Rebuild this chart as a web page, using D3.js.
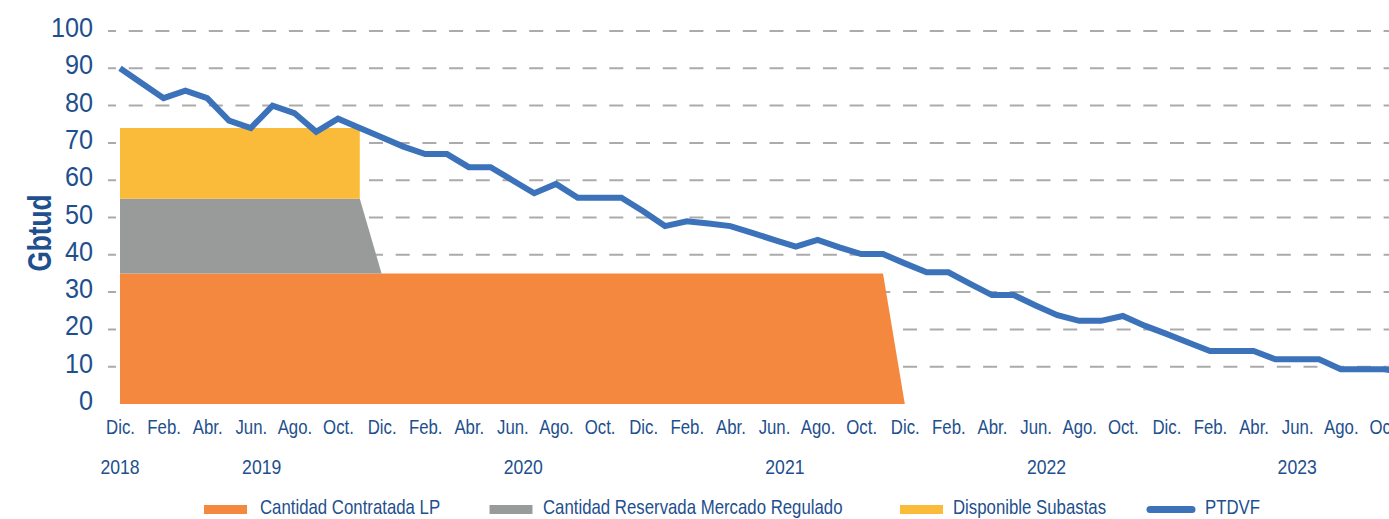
<!DOCTYPE html>
<html>
<head>
<meta charset="utf-8">
<script src="https://cdn.jsdelivr.net/npm/d3@7"></script>
<style>
  html, body { margin: 0; padding: 0; background: #fff; overflow: hidden; }
  svg { display: block; }
  text { font-family: "Liberation Sans", Arial, sans-serif; fill: #1e4f8e; }
</style>
</head>
<body>
<div id="chart"></div>
<script>
'use strict';

// Month labels every two months, Dic. 2018 -> Oct. 2023
const monthLabels = ['Dic.', 'Feb.', 'Abr.', 'Jun.', 'Ago.', 'Oct.'];
const yearLabels = ['2018', '2019', '2020', '2021', '2022', '2023'];
const yearPos = [0, 6.5, 18.5, 30.5, 42.5, 54];

// PTDVF, monthly from Dic. 2018
const ptdvf = [90, 86, 82, 84, 82, 76, 74, 80, 78, 73, 76.5, 74, 71.5, 69, 67, 67, 63.5, 63.5, 60, 56.5,
  59, 55.3, 55.3, 55.3, 51.7, 47.7, 49, 48.4, 47.7, 45.9, 44, 42.2, 44, 42, 40.2, 40.2, 37.7, 35.3, 35.3, 32.2,
  29.2, 29.2, 26.4, 23.8, 22.3, 22.3, 23.6, 21, 18.8, 16.5, 14.2, 14.2, 14.2, 12, 12, 12, 9.3, 9.3, 9.3, 8.5];

// stacked quantities (Gbtud)
const contratada = [35, 35, 35, 35, 35, 35, 35, 35, 35, 35, 35, 35, 35, 35, 35, 35, 35, 35, 35, 35,
  35, 35, 35, 35, 35, 35, 35, 35, 35, 35, 35, 35, 35, 35, 35, 35, 0];
const reservada = [20, 20, 20, 20, 20, 20, 20, 20, 20, 20, 20, 20, 0];
const subastas = [19, 19, 19, 19, 19, 19, 19, 19, 19, 19, 19, 19];

const legendItems = [
  {key: 'contratada', label: 'Cantidad Contratada LP', color: '#f5883f'},
  {key: 'reservada', label: 'Cantidad Reservada Mercado Regulado', color: '#999b9b'},
  {key: 'subastas', label: 'Disponible Subastas', color: '#fbbb3a'},
  {key: 'ptdvf', label: 'PTDVF', color: '#3b72ba'}
];

const width = 1389, height = 519;
const narrow = ' scale(0.84,1)';   // condensed look from a regular face
const x = d3.scaleLinear().domain([0, 58]).range([120, 1384.4]);
const y = d3.scaleLinear().domain([0, 100]).range([404, 31]);

const svg = d3.select('#chart').append('svg')
  .attr('width', width)
  .attr('height', height);

// grid
svg.append('g')
  .selectAll('line')
  .data(d3.range(10, 101, 10))
  .join('line')
  .attr('x1', 108)
  .attr('x2', width)
  .attr('y1', d => y(d))
  .attr('y2', d => y(d))
  .attr('stroke', '#ababab')
  .attr('stroke-width', 2)
  .attr('stroke-dasharray', '14 12.7')
  .attr('stroke-dashoffset', 6);

// stacked areas
const table = contratada.map((v, i) => ({
  i: i,
  contratada: v,
  reservada: reservada[i] != null ? reservada[i] : 0,
  subastas: subastas[i] != null ? subastas[i] : NaN
}));
const series = d3.stack().keys(['contratada', 'reservada', 'subastas'])(table);

const area = d3.area()
  .x(d => x(d.data.i))
  .y0(d => y(d[0]))
  .y1(d => y(d[1]));

const colorOf = {};
legendItems.forEach(d => { colorOf[d.key] = d.color; });

svg.append('g')
  .selectAll('path')
  .data(series)
  .join('path')
  .attr('fill', d => colorOf[d.key])
  .attr('d', d => {
    // cut each layer after it drops to zero
    const last = d.findIndex((p, i) => i > 0 && p[1] - p[0] === 0);
    const pts = last > 0 ? d.slice(0, last + 1) : d;
    return area(pts.filter(p => !isNaN(p[1])));
  });

// PTDVF line
svg.append('path')
  .datum(ptdvf)
  .attr('fill', 'none')
  .attr('stroke', colorOf.ptdvf)
  .attr('stroke-width', 6)
  .attr('d', d3.line().x((d, i) => x(i)).y(d => y(d)));

// y axis labels
svg.append('g')
  .selectAll('text')
  .data(d3.range(0, 101, 10))
  .join('text')
  .attr('transform', d => 'translate(93,' + (y(d) + 6) + ') scale(0.9,1)')
  .attr('text-anchor', 'end')
  .style('font-size', '28px')
  .text(d => d);

svg.append('text')
  .attr('transform', 'translate(51,233) rotate(-90)')
  .attr('text-anchor', 'middle')
  .attr('textLength', 77)
  .attr('lengthAdjust', 'spacingAndGlyphs')
  .style('font-size', '34px')
  .style('font-weight', 'bold')
  .text('Gbtud');

// x axis
const xAxis = d3.axisBottom(x)
  .tickValues(d3.range(0, 59, 2))
  .tickFormat((d, i) => monthLabels[i % monthLabels.length])
  .tickSize(0)
  .tickPadding(0);

const gx = svg.append('g')
  .attr('transform', 'translate(0,420)')
  .call(xAxis);
gx.select('.domain').remove();
gx.selectAll('text')
  .attr('dy', null)
  .attr('y', 14)
  .attr('transform', narrow)
  .style('font-size', '20px')
  .attr('fill', null);

svg.append('g')
  .selectAll('text')
  .data(yearLabels)
  .join('text')
  .attr('transform', (d, i) => 'translate(' + x(yearPos[i]) + ',474)' + narrow)
  .attr('text-anchor', 'middle')
  .style('font-size', '21px')
  .text(d => d);

// legend
const legendX = [204, 489.5, 900, 1147];
const legendTextX = [260, 543, 953, 1205];
const legend = svg.append('g')
  .selectAll('g')
  .data(legendItems)
  .join('g');

legend.filter(d => d.key !== 'ptdvf')
  .append('rect')
  .attr('x', (d, i) => legendX[i])
  .attr('y', 505)
  .attr('width', 43)
  .attr('height', 9)
  .attr('fill', d => d.color);

legend.filter(d => d.key === 'ptdvf')
  .append('line')
  .attr('x1', legendX[3] + 3)
  .attr('x2', legendX[3] + 45)
  .attr('y1', 509.5)
  .attr('y2', 509.5)
  .attr('stroke', d => d.color)
  .attr('stroke-width', 7)
  .attr('stroke-linecap', 'round');

legend.append('text')
  .attr('transform', (d, i) => 'translate(' + legendTextX[i] + ',514)' + narrow)
  .style('font-size', '20px')
  .text(d => d.label);
</script>
</body>
</html>
